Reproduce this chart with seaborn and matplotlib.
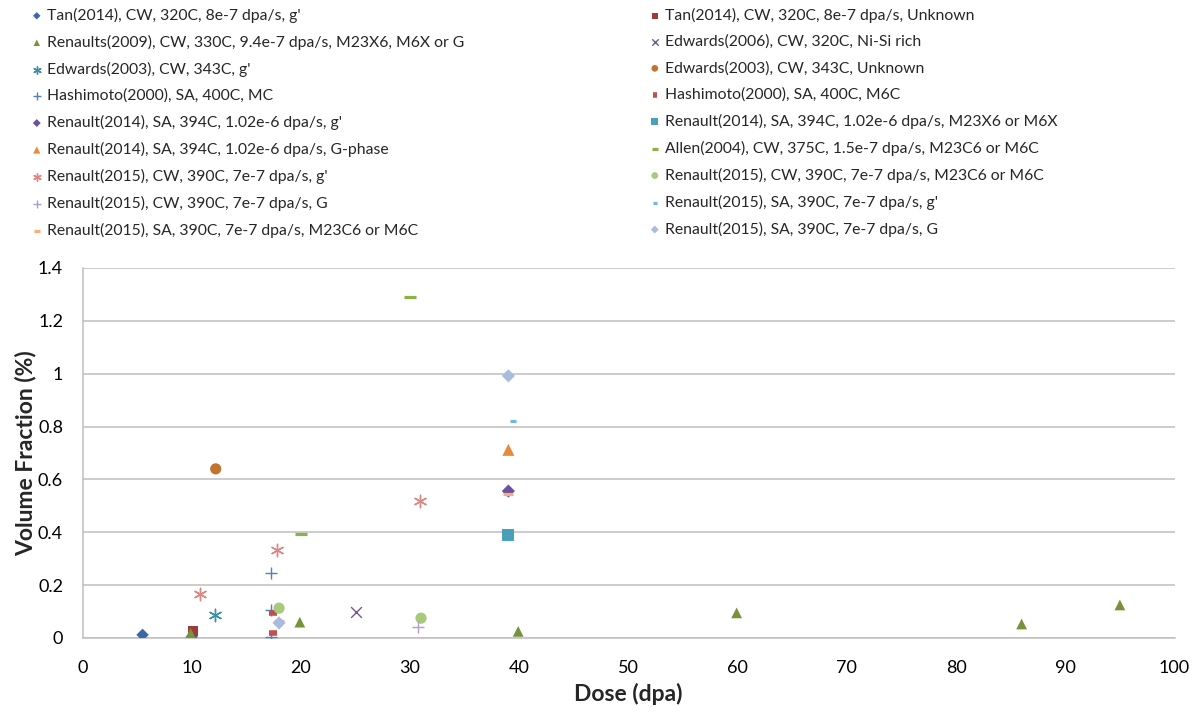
# plot.py
# Volume fraction of precipitates vs dose, scatter recreation with seaborn

import numpy as np
import pandas as pd
import matplotlib
matplotlib.use("Agg")
import matplotlib.pyplot as plt
import seaborn as sns

# ── Data ─────────────────────────────────────────────────
series_labels = [
    "Tan(2014), CW, 320C, 8e-7 dpa/s, g'",
    "Tan(2014), CW, 320C, 8e-7 dpa/s, Unknown",
    "Renaults(2009), CW, 330C, 9.4e-7 dpa/s, M23X6, M6X or G",
    "Edwards(2006), CW, 320C, Ni-Si rich",
    "Edwards(2003), CW, 343C, g'",
    "Edwards(2003), CW, 343C, Unknown",
    "Hashimoto(2000), SA, 400C, MC",
    "Hashimoto(2000), SA, 400C, M6C",
    "Renault(2014), SA, 394C, 1.02e-6 dpa/s, g'",
    "Renault(2014), SA, 394C, 1.02e-6 dpa/s, M23X6 or M6X",
    "Renault(2014), SA, 394C, 1.02e-6 dpa/s, G-phase",
    "Allen(2004), CW, 375C, 1.5e-7 dpa/s, M23C6 or M6C",
    "Renault(2015), CW, 390C, 7e-7 dpa/s, g'",
    "Renault(2015), CW, 390C, 7e-7 dpa/s, M23C6 or M6C",
    "Renault(2015), CW, 390C, 7e-7 dpa/s, G",
    "Renault(2015), SA, 390C, 7e-7 dpa/s, g'",
    "Renault(2015), SA, 390C, 7e-7 dpa/s, M23C6 or M6C",
    "Renault(2015), SA, 390C, 7e-7 dpa/s, G",
]

dose = [
    [5.5, 10.0],
    [10.1],
    [9.9, 19.9, 39.9, 59.9, 86.0, 95.0],
    [25.0],
    [12.1],
    [12.2],
    [17.3, 17.3, 17.3],
    [17.4, 17.4],
    [39.0],
    [39.0],
    [39.0],
    [20.0, 30.0],
    [10.8, 17.8, 30.9],
    [18.0, 31.0],
    [30.7],
    [39.4],
    [18.0, 39.0],
    [18.0, 39.0],
]

vol_frac = [
    [0.012, 0.004],
    [0.027],
    [0.018, 0.060, 0.025, 0.095, 0.053, 0.125],
    [0.098],
    [0.087],
    [0.640],
    [0.246, 0.106, 0.004],
    [0.096, 0.019],
    [0.556],
    [0.391],
    [0.712],
    [0.394, 1.292],
    [0.166, 0.333, 0.518],
    [0.113, 0.075],
    [0.043],
    [0.820],
    [0.066, 0.545],
    [0.057, 0.992],
]

# ── Styles ───────────────────────────────────────────────
markers = ["D", "s", "^", "x", (6, 2, 0), "o", "+", "_", "D",
           "s", "^", "_", (6, 2, 0), "o", "+", "_", "_", "D"]
colors = ["#3C69A6", "#9E3A39", "#76923B", "#6E5A96", "#3B8EA6",
          "#C4732F", "#4F81BD", "#C0504D", "#6A52A0", "#4AA0B8",
          "#E98A3B", "#8CB04A", "#DA8683", "#A9C97B", "#B19ECA",
          "#6FBBD0", "#F9AD79", "#A9BCDE"]
sizes = [40, 55, 60, 60, 80, 65, 80, 28, 45,
         75, 75, 70, 80, 65, 80, 22, 60, 45]
lws = [0, 0, 0, 1.0, 1.0, 0, 1.0, 4.0, 0,
       0, 0, 2.3, 1.0, 0, 1.0, 2.3, 2.3, 0]

GRID = "#BFBFBF"

sns.set_theme(style="white")
plt.rcParams["font.family"] = ["Lato", "DejaVu Sans"]

fig = plt.figure(figsize=(12.01, 7.14), dpi=100)
ax = fig.add_axes([82.5 / 1201, 76 / 714, 1092 / 1201, 370 / 714])

for i, lab in enumerate(series_labels):
    df = pd.DataFrame({"dose": dose[i], "vf": vol_frac[i]})
    m = markers[i]
    kw = dict(marker=m, s=sizes[i], color=colors[i], ax=ax,
              label=lab, zorder=3)
    if m in ("x", "+", "_") or isinstance(m, tuple):
        kw["linewidth"] = lws[i]
    else:
        kw["edgecolor"] = "none"
        kw["linewidth"] = 0
    sns.scatterplot(data=df, x="dose", y="vf", **kw)

ax.set_xlim(0, 100)
ax.set_ylim(0, 1.4)
ax.set_xticks(np.arange(0, 101, 10))
ax.set_yticks(np.arange(0, 1.41, 0.2))
ax.set_yticklabels(["0", "0.2", "0.4", "0.6", "0.8", "1", "1.2", "1.4"])
ax.tick_params(axis="both", length=0, labelsize=13, colors="black")
ax.tick_params(axis="x", pad=16)
ax.tick_params(axis="y", pad=14)

ax.yaxis.grid(True, color=GRID, linewidth=1.1)
ax.xaxis.grid(False)
for side in ["top", "right"]:
    ax.spines[side].set_visible(False)
for side in ["left", "bottom"]:
    ax.spines[side].set_color(GRID)
    ax.spines[side].set_linewidth(1.1)

ax.set_xlabel("Dose (dpa)", fontsize=16.5, fontweight="bold", labelpad=5)
ax.set_ylabel("Volume Fraction (%)", fontsize=16.5, fontweight="bold")
# right edge of the rotated label sits just left of the tick labels
ax.yaxis.set_label_coords((36 - 82.5) / 1092, 0.5)

# legend: two columns laid out row-wise (even entries left, odd right)
h, l = ax.get_legend_handles_labels()
if ax.legend_:
    ax.legend_.remove()
leg_kw = dict(loc="upper left", frameon=False, fontsize=11.3,
              markerscale=0.6, handlelength=0.5, handletextpad=0.4,
              labelspacing=0.76, borderpad=0)
fig.legend(h[0::2], l[0::2], bbox_to_anchor=(25 / 1201, 1.0), **leg_kw)
fig.legend(h[1::2], l[1::2], bbox_to_anchor=(643 / 1201, 1.0), **leg_kw)

fig.savefig("out.png", dpi=100)
